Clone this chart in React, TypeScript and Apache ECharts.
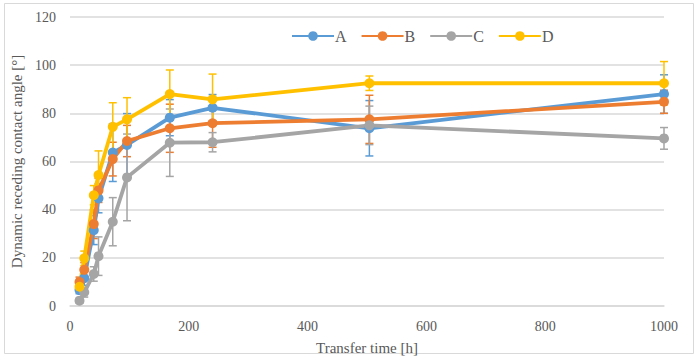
import React, { useEffect, useRef } from "react";
import * as echarts from "echarts";

const times = [16, 24, 40, 48, 72, 96, 168, 240, 504, 1000];
const seriesNames = ["A", "B", "C", "D"];
const valuesA = [6.6, 11.6, 31.5, 44.7, 63.7, 66.9, 78.2, 82.3, 73.8, 88];
const valuesB = [10, 15, 34, 48, 61, 68.5, 73.8, 75.9, 77.5, 84.8];
const valuesC = [2.2, 5.7, 13.3, 20.7, 35, 53.4, 67.8, 68, 75, 69.6];
const valuesD = [8, 19.8, 46, 54.4, 74.4, 77.5, 88, 85.8, 92.5, 92.5];
const errA = [1.5, 3, 6, 6, 12, 13, 7.5, 5.5, 11.5, 8];
const errB = [2, 3, 6, 5, 7, 6.5, 10, 10, 10, 4.8];
const errC = [1, 2, 3, 8, 10, 18, 14, 4, 8, 4.5];
const errD = [2, 3, 4, 10, 10, 9, 10, 10.5, 3, 9];
const colors = ["#5B9BD5", "#ED7D31", "#A5A5A5", "#FFC000"];
const xTicks = { min: 0, max: 1000, interval: 200 };
const yTicks = { min: 0, max: 120, interval: 20 };

const FONT = "Liberation Serif, Times New Roman, serif";

export default function App() {
  const ref = useRef<HTMLDivElement>(null);
  useEffect(() => {
    if (!ref.current) return;
    const chart = echarts.init(ref.current, null, { renderer: "svg" });
    const vals = [valuesA, valuesB, valuesC, valuesD];
    const errs = [errA, errB, errC, errD];

    const errorSeries = vals.map((v, si) => ({
      type: "custom",
      name: seriesNames[si] + "-err",
      z: 1,
      data: times.map((t, i) => [t, v[i] - errs[si][i], v[i] + errs[si][i]]),
      renderItem: (params: any, api: any) => {
        const x = api.value(0);
        const lo = api.coord([x, api.value(1)]);
        const hi = api.coord([x, api.value(2)]);
        const hw = 4;
        const style = { stroke: colors[si], lineWidth: 1.5 };
        return {
          type: "group",
          children: [
            { type: "line", shape: { x1: lo[0], y1: lo[1], x2: hi[0], y2: hi[1] }, style },
            { type: "line", shape: { x1: lo[0] - hw, y1: lo[1], x2: lo[0] + hw, y2: lo[1] }, style },
            { type: "line", shape: { x1: hi[0] - hw, y1: hi[1], x2: hi[0] + hw, y2: hi[1] }, style },
          ],
        };
      },
    }));

    const lineSeries = vals.map((v, si) => ({
      type: "line",
      name: seriesNames[si],
      z: 2,
      data: times.map((t, i) => [t, v[i]]),
      symbol: "circle",
      symbolSize: 10,
      showSymbol: true,
      lineStyle: { width: 3.8, color: colors[si] },
      itemStyle: { color: colors[si] },
    }));

    chart.setOption({
      animation: false,
      backgroundColor: "#ffffff",
      color: colors,
      textStyle: { fontFamily: FONT },
      grid: { left: 70, right: 36, top: 17, bottom: 54 },
      legend: {
        data: seriesNames,
        left: 286,
        top: 23,
        itemWidth: 42,
        itemHeight: 12,
        itemGap: 14,
        textStyle: { fontFamily: FONT, fontSize: 16, color: "#595959", padding: [0, 0, 0, -4] },
      },
      graphic: [
        {
          type: "rect",
          shape: { x: 4.5, y: 3.5, width: 689, height: 350 },
          style: { fill: "none", stroke: "#d9d9d9", lineWidth: 1 },
          silent: true,
        },
      ],
      xAxis: {
        type: "value",
        min: xTicks.min,
        max: xTicks.max,
        interval: xTicks.interval,
        name: "Transfer time [h]",
        nameLocation: "middle",
        nameGap: 34,
        nameTextStyle: { fontFamily: FONT, fontSize: 15, color: "#595959" },
        axisLine: { show: true, lineStyle: { color: "#d9d9d9", width: 1.5 } },
        axisTick: { show: false },
        splitLine: { show: false },
        axisLabel: {
          fontFamily: FONT,
          fontSize: 14,
          color: "#595959",
          margin: 13,
          formatter: (v: number) => String(v),
        },
      },
      yAxis: {
        type: "value",
        min: yTicks.min,
        max: yTicks.max,
        interval: yTicks.interval,
        name: "Dynamic receding contact angle [°]",
        nameLocation: "middle",
        nameGap: 46,
        nameTextStyle: { fontFamily: FONT, fontSize: 15, color: "#595959" },
        axisLine: { show: false },
        axisTick: { show: false },
        splitLine: { show: true, lineStyle: { color: "#d9d9d9", width: 1.5 } },
        axisLabel: { fontFamily: FONT, fontSize: 14, color: "#595959", margin: 14 },
      },
      series: [...errorSeries, ...lineSeries],
    });
    return () => chart.dispose();
  }, []);
  return (
    <div
      ref={ref}
      style={{ position: "fixed", left: 0, top: 0, width: 700, height: 360 }}
    />
  );
}
